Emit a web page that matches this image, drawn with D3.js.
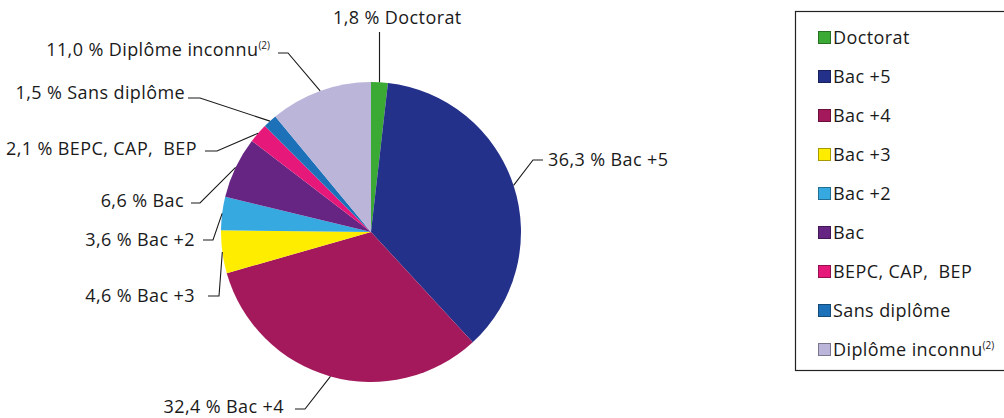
<!DOCTYPE html>
<html>
<head>
<meta charset="utf-8">
<script src="https://cdn.jsdelivr.net/npm/d3@7"></script>
<style>
  html, body { margin: 0; padding: 0; background: #fff; }
  svg { display: block; }
  text { font-family: "Open Sans", "Noto Sans", sans-serif; fill: #1a1a1a; letter-spacing: 0.4px; }
</style>
</head>
<body>
<svg id="chart" width="1004" height="418"></svg>
<script>
// ---- Data ----
const categories = ["Doctorat", "Bac +5", "Bac +4", "Bac +3", "Bac +2", "Bac", "BEPC, CAP,  BEP", "Sans diplôme", "Diplôme inconnu"];
const values = [1.8, 36.3, 32.4, 4.6, 3.6, 6.6, 2.1, 1.5, 11.0];
const footnotes = ["", "", "", "", "", "", "", "", "(2)"];
const colors = ["#3aaa35", "#24318a", "#a3195b", "#ffed00", "#36a9e1", "#662483", "#e6197a", "#1d71b8", "#bbb5da"];

// ---- Layout (label anchors & leader elbows) ----
const labelLayout = [
  { anchor: "start", x: 333, y: 24,  elbow: [379.5, 32], stub: null },
  { anchor: "start", x: 548, y: 166, elbow: [533, 160], stub: 543 },
  { anchor: "end",   x: 284, y: 413, elbow: [305, 409], stub: 295 },
  { anchor: "end",   x: 195, y: 302, elbow: [219, 296], stub: 208 },
  { anchor: "end",   x: 195, y: 246, elbow: [213, 240], stub: 203 },
  { anchor: "end",   x: 184, y: 207, elbow: [200, 203], stub: 191 },
  { anchor: "end",   x: 197, y: 155, elbow: [217, 151], stub: 205 },
  { anchor: "end",   x: 185, y: 99,  elbow: [200, 98],  stub: 188 },
  { anchor: "end",   x: 270, y: 56,  elbow: [288, 53],  stub: 278 }
];

const svg = d3.select("#chart");
const cx = 371, cy = 232, R = 150;
const fs = 18;

const data = categories.map((c, i) => ({ name: c, value: values[i], note: footnotes[i], color: colors[i], i }));

const pie = d3.pie().value(d => d.value).sort(null);
const arcs = pie(data);
const arc = d3.arc().innerRadius(0).outerRadius(R);

const g = svg.append("g").attr("transform", `translate(${cx},${cy})`);
g.selectAll("path").data(arcs).join("path")
  .attr("d", arc)
  .attr("fill", d => d.data.color);

// Leader lines
const fmt = v => d3.format(".1f")(v).replace(".", ",");
arcs.forEach((a, i) => {
  const L = labelLayout[i];
  const mid = (a.startAngle + a.endAngle) / 2;
  const ex = cx + R * Math.sin(mid), ey = cy - R * Math.cos(mid);
  const pts = [[ex, ey], L.elbow];
  if (L.stub !== null) pts.push([L.stub, L.elbow[1]]);
  svg.append("path")
    .attr("d", d3.line()(pts))
    .attr("fill", "none")
    .attr("stroke", "#1a1a1a")
    .attr("stroke-width", 1.1);

  const t = svg.append("text")
    .attr("x", L.x).attr("y", L.y)
    .attr("text-anchor", L.anchor)
    .attr("font-size", fs)
    .style("white-space", "pre");
  t.append("tspan").text(`${fmt(a.data.value)} % ${a.data.name}`);
  if (a.data.note) {
    t.append("tspan").attr("font-size", 10).attr("dy", -7).style("letter-spacing", "0px").text(a.data.note);
  }
});

// Legend
const lg = svg.append("g");
lg.append("rect")
  .attr("x", 795.5).attr("y", 11.5)
  .attr("width", 230).attr("height", 359)
  .attr("fill", "#fff")
  .attr("stroke", "#222").attr("stroke-width", 1.2);

const ly = d3.scaleLinear().domain([0, 1]).range([44, 83]);
data.forEach((d, i) => {
  const y = ly(i);
  lg.append("rect")
    .attr("x", 818.5).attr("y", y - 12.5)
    .attr("width", 12).attr("height", 12)
    .attr("fill", d.color)
    .attr("stroke", d3.color(d.color).darker(1.2))
    .attr("stroke-width", 1);
  const t = lg.append("text")
    .attr("x", 833).attr("y", y)
    .attr("font-size", fs)
    .style("white-space", "pre");
  t.append("tspan").text(d.name);
  if (d.note) t.append("tspan").attr("font-size", 10).attr("dy", -7).style("letter-spacing", "0px").text(d.note);
});
</script>
</body>
</html>
